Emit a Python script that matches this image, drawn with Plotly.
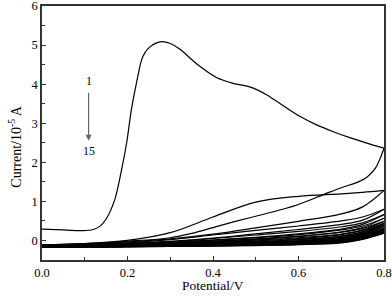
import plotly.graph_objects as go

# Cycle 1 forward scan (with oxidation peak)
p1_fwd = [0.0, 0.05, 0.096, 0.12, 0.135, 0.15, 0.17, 0.185, 0.198, 0.209, 0.221, 0.236, 0.253, 0.281,
          0.3, 0.322, 0.35, 0.37, 0.408, 0.447, 0.486, 0.525, 0.56, 0.604, 0.64, 0.68, 0.72, 0.76, 0.8]
i1_fwd = [0.29, 0.27, 0.25, 0.28, 0.36, 0.55, 1.04, 1.75, 2.5, 3.34, 4.03, 4.71, 4.96, 5.09,
          5.04, 4.9, 4.63, 4.45, 4.17, 4.02, 3.93, 3.73, 3.48, 3.17, 2.97, 2.79, 2.63, 2.49, 2.36]
# Cycle 1 reverse scan
p1_rev = [0.8, 0.78, 0.76, 0.74, 0.7, 0.66, 0.6, 0.55, 0.5, 0.45, 0.4, 0.35, 0.3, 0.2, 0.1, 0.0]
i1_rev = [2.36, 1.85, 1.62, 1.50, 1.35, 1.18, 0.92, 0.76, 0.62, 0.48, 0.33, 0.18, 0.07, -0.02, -0.08, -0.11]

# Cycles 2-15 sampled at common potentials
potential = [0.0, 0.1, 0.2, 0.3, 0.4, 0.5, 0.6, 0.7, 0.75, 0.8]
fwd = {
    2: [-0.11, -0.08, 0.00, 0.20, 0.60, 0.98, 1.13, 1.19, 1.23, 1.28],
    3: [-0.12, -0.10, -0.06, 0.02, 0.14, 0.26, 0.37, 0.50, 0.60, 0.80],
    4: [-0.13, -0.11, -0.08, -0.03, 0.05, 0.14, 0.23, 0.35, 0.45, 0.66],
    5: [-0.14, -0.12, -0.09, -0.05, 0.01, 0.07, 0.15, 0.27, 0.37, 0.57],
    6: [-0.14, -0.13, -0.10, -0.06, -0.02, 0.03, 0.10, 0.21, 0.31, 0.49],
    7: [-0.15, -0.14, -0.12, -0.09, -0.05, -0.01, 0.05, 0.15, 0.26, 0.44],
    8: [-0.15, -0.14, -0.13, -0.10, -0.07, -0.03, 0.02, 0.11, 0.22, 0.40],
    9: [-0.16, -0.15, -0.13, -0.11, -0.08, -0.05, -0.01, 0.08, 0.18, 0.36],
    10: [-0.16, -0.15, -0.14, -0.12, -0.09, -0.06, -0.03, 0.05, 0.15, 0.32],
    11: [-0.16, -0.16, -0.14, -0.12, -0.10, -0.08, -0.05, 0.03, 0.12, 0.29],
    12: [-0.17, -0.16, -0.15, -0.13, -0.11, -0.09, -0.06, 0.01, 0.10, 0.26],
    13: [-0.17, -0.16, -0.15, -0.14, -0.12, -0.10, -0.08, -0.01, 0.07, 0.23],
    14: [-0.17, -0.17, -0.16, -0.14, -0.13, -0.11, -0.09, -0.03, 0.05, 0.21],
    15: [-0.18, -0.17, -0.16, -0.15, -0.14, -0.12, -0.10, -0.04, 0.04, 0.19],
}
rev = {
    2: [-0.12, -0.09, -0.04, 0.04, 0.16, 0.32, 0.49, 0.68, 0.86, 1.28],
    3: [-0.13, -0.11, -0.07, -0.02, 0.06, 0.17, 0.28, 0.41, 0.52, 0.80],
    4: [-0.14, -0.12, -0.09, -0.05, 0.01, 0.08, 0.17, 0.29, 0.41, 0.66],
    5: [-0.14, -0.13, -0.10, -0.07, -0.02, 0.04, 0.11, 0.22, 0.33, 0.57],
    6: [-0.15, -0.13, -0.11, -0.08, -0.04, 0.01, 0.07, 0.16, 0.27, 0.49],
    7: [-0.15, -0.14, -0.12, -0.10, -0.07, -0.03, 0.02, 0.11, 0.22, 0.44],
    8: [-0.16, -0.15, -0.13, -0.11, -0.08, -0.05, -0.01, 0.08, 0.19, 0.40],
    9: [-0.16, -0.15, -0.14, -0.12, -0.09, -0.06, -0.03, 0.05, 0.16, 0.36],
    10: [-0.16, -0.16, -0.14, -0.12, -0.10, -0.07, -0.05, 0.03, 0.13, 0.32],
    11: [-0.17, -0.16, -0.15, -0.13, -0.11, -0.09, -0.06, 0.01, 0.10, 0.29],
    12: [-0.17, -0.16, -0.15, -0.14, -0.12, -0.10, -0.07, -0.01, 0.08, 0.26],
    13: [-0.17, -0.17, -0.16, -0.14, -0.13, -0.11, -0.09, -0.03, 0.06, 0.23],
    14: [-0.18, -0.17, -0.16, -0.15, -0.14, -0.12, -0.10, -0.05, 0.04, 0.21],
    15: [-0.18, -0.17, -0.16, -0.15, -0.14, -0.13, -0.11, -0.06, 0.03, 0.19],
}

x_ticks = [0.0, 0.2, 0.4, 0.6, 0.8]
x_tick_labels = ["0.0", "0.2", "0.4", "0.6", "0.8"]
y_ticks = [0, 1, 2, 3, 4, 5, 6]
y_tick_labels = ["0", "1", "2", "3", "4", "5", "6"]

FONT = "Liberation Serif, Times New Roman, serif"
line_style = dict(color="black", width=1.2, shape="spline", smoothing=1.0)

fig = go.Figure()
fig.add_trace(go.Scatter(x=p1_fwd, y=i1_fwd, mode="lines", line=line_style, hoverinfo="skip"))
fig.add_trace(go.Scatter(x=p1_rev, y=i1_rev, mode="lines", line=line_style, hoverinfo="skip"))
for n in range(2, 16):
    fig.add_trace(go.Scatter(x=potential, y=fwd[n], mode="lines", line=line_style, hoverinfo="skip"))
    fig.add_trace(go.Scatter(x=potential[::-1], y=rev[n][::-1], mode="lines", line=line_style, hoverinfo="skip"))

# cycle-number annotation with arrow
fig.add_annotation(x=0.109, y=4.08, text="1", showarrow=False,
                   font=dict(family=FONT, size=12, color="black"))
fig.add_annotation(x=0.109, y=2.55, ax=0.109, ay=3.82, xref="x", yref="y", axref="x", ayref="y",
                   text="", showarrow=True, arrowhead=2, arrowsize=1, arrowwidth=1.2,
                   arrowcolor="#666666")
fig.add_annotation(x=0.109, y=2.3, text="15", showarrow=False,
                   font=dict(family=FONT, size=12, color="black"))

# axis titles
fig.add_annotation(x=0.5, y=-0.102, xref="paper", yref="paper", text="Potential/V",
                   showarrow=False, xanchor="center", yanchor="middle",
                   font=dict(family=FONT, size=13.5, color="black"))
fig.add_annotation(x=-0.079, y=0.45, xref="paper", yref="paper",
                   text="Current/10<sup>-5</sup> A", textangle=-90,
                   showarrow=False, xanchor="center", yanchor="middle",
                   font=dict(family=FONT, size=14, color="black"))

axis_common = dict(showline=True, linecolor="#333333", linewidth=1.5, mirror=True,
                   ticks="inside", ticklen=4, tickwidth=1, tickcolor="#333333",
                   showgrid=False, zeroline=False, automargin=False,
                   ticklabeloverflow="allow",
                   tickfont=dict(family=FONT, size=12.5, color="black"))

fig.update_layout(
    width=392, height=297,
    margin=dict(l=42, r=8, t=6, b=37),
    paper_bgcolor="white", plot_bgcolor="white",
    showlegend=False,
    xaxis=dict(range=[0, 0.8], tickvals=x_ticks, ticktext=x_tick_labels,
               minor=dict(dtick=0.1, ticks="inside", ticklen=3, tickcolor="#333333"),
               **axis_common),
    yaxis=dict(range=[-0.5, 6], tickvals=y_ticks, ticktext=y_tick_labels,
               minor=dict(dtick=0.5, tick0=0, ticks="inside", ticklen=3, tickcolor="#333333"),
               **axis_common),
)

fig.write_html("out.html", config={"displayModeBar": False},
               post_script="document.body.style.margin='0';document.body.style.overflow='hidden';")
